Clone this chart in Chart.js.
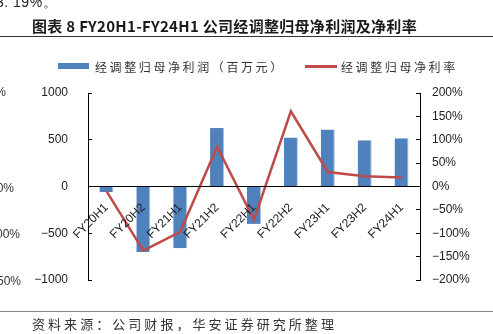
<!DOCTYPE html>
<html>
<head>
<meta charset="utf-8">
<script src="https://cdn.jsdelivr.net/npm/chart.js@4.4.0/dist/chart.umd.min.js"></script>
<style>
  body { margin: 0; background: #fff; }
  .page { position: relative; width: 493px; height: 334px; overflow: hidden; font-family: "Noto Sans CJK SC", sans-serif; }
  #chart { position: absolute; left: 0; top: 0; }
  .txt { position: absolute; white-space: nowrap; color: #222; }
  .prev { top: -6px; left: -4px; font: 14px "Liberation Sans", Arial, sans-serif; letter-spacing: 0.5px; }
  .title { top: 15px; left: 32px; font-size: 15px; font-weight: bold; letter-spacing: 0.3px; color: #1a1a1a; }
  .rule { position: absolute; left: 0; width: 493px; height: 1px; }
  .legend { top: 58px; font-size: 12px; letter-spacing: 2.6px; color: #333; }
  .swatch { position: absolute; }
  .cut { font: 12px "Liberation Sans", Arial, sans-serif; color: #333; text-align: right; }
  .source { top: 314px; left: 32px; font-size: 13px; letter-spacing: 3.05px; color: #333; }
</style>
</head>
<body>
<div class="page">
  <canvas id="chart" width="493" height="334"></canvas>
  <div class="txt prev">3. 19%。</div>
  <div class="txt title">图表 8 FY20H1-FY24H1 公司经调整归母净利润及净利率</div>
  <div class="rule" style="top:36px;background:#333"></div>
  <div class="swatch" id="swBar" style="left:58px;top:63px;width:31px;height:6px"></div>
  <div class="txt legend" id="lgBar" style="left:95px"></div>
  <div class="swatch" id="swLine" style="left:305px;top:65px;width:32px;height:2.5px"></div>
  <div class="txt legend" id="lgLine" style="left:341px"></div>
  <div class="txt cut" style="right:487px;top:85px">%</div>
  <div class="txt cut" style="right:479px;top:181px">0%</div>
  <div class="txt cut" style="right:473px;top:227px">00%</div>
  <div class="txt cut" style="right:472px;top:274px">50%</div>
  <div class="rule" style="top:311px;background:#888"></div>
  <div class="txt source">资料来源：公司财报，华安证券研究所整理</div>
</div>
<script>
const periods = ['FY20H1', 'FY20H2', 'FY21H1', 'FY21H2', 'FY22H1', 'FY22H2', 'FY23H1', 'FY23H2', 'FY24H1'];
const netProfit = [-60, -700, -660, 625, -400, 525, 610, 495, 515];   // 百万元
const netMargin = [-10, -137, -97, 85, -71, 161, 31, 22, 19];         // %
const profitTicks = [-1000, -500, 0, 500, 1000];
const marginTicks = [-200, -150, -100, -50, 0, 50, 100, 150, 200];

const barName = '经调整归母净利润（百万元）';
const lineName = '经调整归母净利率';
const barColor = '#4F81BD';
const lineColor = '#BE4B48';

document.getElementById('lgBar').textContent = barName;
document.getElementById('lgLine').textContent = lineName;
document.getElementById('swBar').style.background = barColor;
document.getElementById('swLine').style.background = lineColor;

const minus = s => String(s).replace('-', '\u2212');
const axisFont = { family: '"Liberation Sans", Arial, sans-serif', size: 12 };

new Chart(document.getElementById('chart'), {
  data: {
    labels: periods,
    datasets: [
      {
        type: 'line',
        label: lineName,
        data: netMargin,
        yAxisID: 'y1',
        borderColor: lineColor,
        borderWidth: 2.5,
        pointRadius: 0,
        tension: 0,
        order: 0
      },
      {
        type: 'bar',
        label: barName,
        data: netProfit,
        yAxisID: 'y',
        backgroundColor: barColor,
        borderColor: '#A9C2E2',
        borderWidth: { left: 0, top: 0, right: 1, bottom: 0 },
        categoryPercentage: 1,
        barPercentage: 0.38,
        order: 1
      }
    ]
  },
  options: {
    responsive: false,
    animation: false,
    layout: { padding: { top: 93, bottom: 54, left: 0, right: 0 } },
    plugins: { legend: { display: false }, tooltip: { enabled: false } },
    scales: {
      x: {
        position: { y: 0 },
        grid: { display: false, drawTicks: false },
        border: { color: '#000', width: 1, z: 1 },
        // category labels sit on top of the bars
        ticks: { z: 1, color: '#222', font: axisFont, minRotation: 45, maxRotation: 45, padding: 14, autoSkip: false }
      },
      y: {
        position: 'left',
        min: -1000,
        max: 1000,
        afterBuildTicks: s => { s.ticks = profitTicks.map(v => ({ value: v })); },
        afterFit: s => { s.width = 88; },
        grid: { drawOnChartArea: false, tickLength: -4, color: '#000' },
        border: { color: '#000', width: 1 },
        ticks: { color: '#222', font: axisFont, padding: 24, callback: v => minus(v) }
      },
      y1: {
        position: 'right',
        min: -200,
        max: 200,
        afterBuildTicks: s => { s.ticks = marginTicks.map(v => ({ value: v })); },
        afterFit: s => { s.width = 73; },
        grid: { drawOnChartArea: false, tickLength: -4, color: '#000' },
        border: { color: '#000', width: 1 },
        ticks: { color: '#222', font: axisFont, padding: 16, callback: v => minus(v) + '%' }
      }
    }
  }
});
</script>
</body>
</html>
